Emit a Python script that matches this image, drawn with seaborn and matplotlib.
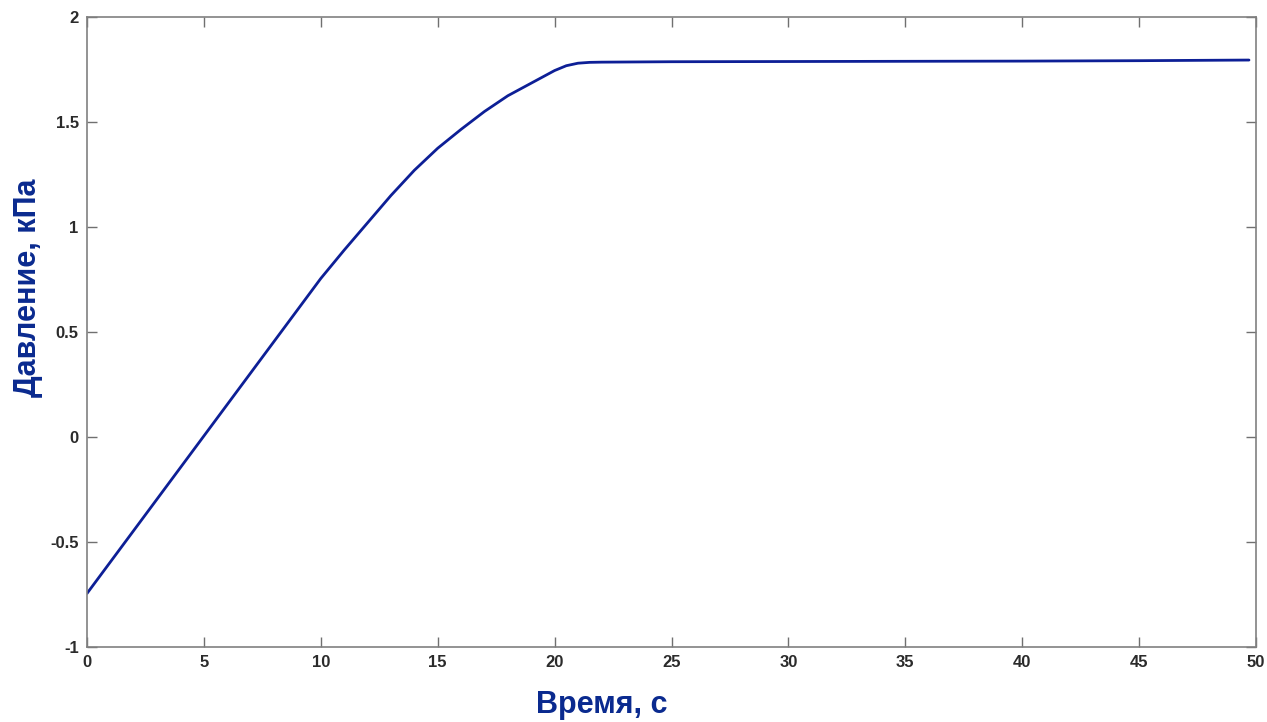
import matplotlib
matplotlib.use("Agg")
import matplotlib.pyplot as plt
import seaborn as sns
import pandas as pd

time_s = [0, 2, 4, 6, 8, 9, 10, 11, 12, 13, 14, 15, 16, 17, 18, 19, 19.5, 20,
          20.5, 21, 21.5, 22, 25, 30, 35, 40, 45, 49.7]
pressure_kpa = [-0.745, -0.445, -0.145, 0.155, 0.455, 0.605, 0.755, 0.89, 1.02,
                1.15, 1.27, 1.375, 1.465, 1.55, 1.625, 1.685, 1.715, 1.745,
                1.768, 1.780, 1.784, 1.785, 1.787, 1.788, 1.789, 1.790, 1.792, 1.795]
x_ticks = [0, 5, 10, 15, 20, 25, 30, 35, 40, 45, 50]
y_ticks = [-1, -0.5, 0, 0.5, 1, 1.5, 2]
y_tick_labels = ["-1", "-0.5", "0", "0.5", "1", "1.5", "2"]

sns.set_theme(style="white")
plt.rcParams['font.family'] = ['Liberation Sans', 'DejaVu Sans']

df = pd.DataFrame({"t": time_s, "p": pressure_kpa})

fig = plt.figure(figsize=(12.67, 7.22), dpi=100)
ax = fig.add_axes([87/1267, 1 - 647/722, (1256-87)/1267, (647-17)/722])
sns.lineplot(data=df, x="t", y="p", ax=ax, color="#0d1f96", linewidth=2.0)

ax.set_xlim(0, 50)
ax.set_ylim(-1, 2)
ax.set_xticks(x_ticks)
ax.set_xticklabels([str(v) for v in x_ticks])
ax.set_yticks(y_ticks)
ax.set_yticklabels(y_tick_labels)
ax.tick_params(direction="in", length=7, width=1, color="#707070",
               top=True, right=True, bottom=True, left=True,
               labelsize=12, labelcolor="#2b2b2b", pad=6)
for lab in ax.get_xticklabels() + ax.get_yticklabels():
    lab.set_fontweight("bold")
for s in ax.spines.values():
    s.set_visible(True)
    s.set_color("#808080")
    s.set_linewidth(1.2)

ax.set_xlabel("Время, с", fontsize=22, fontweight="bold", color="#0a2a8f")
ax.set_ylabel("Давление, кПа", fontsize=22, fontweight="bold", color="#0a2a8f")
ax.xaxis.set_label_coords((602-87)/1169, (647-705)/630)
ax.yaxis.set_label_coords((28-87)/1169, (647-288)/630)
ax.xaxis.label.set_va("center")
ax.yaxis.label.set_va("center")

fig.savefig("out.png", dpi=100)
